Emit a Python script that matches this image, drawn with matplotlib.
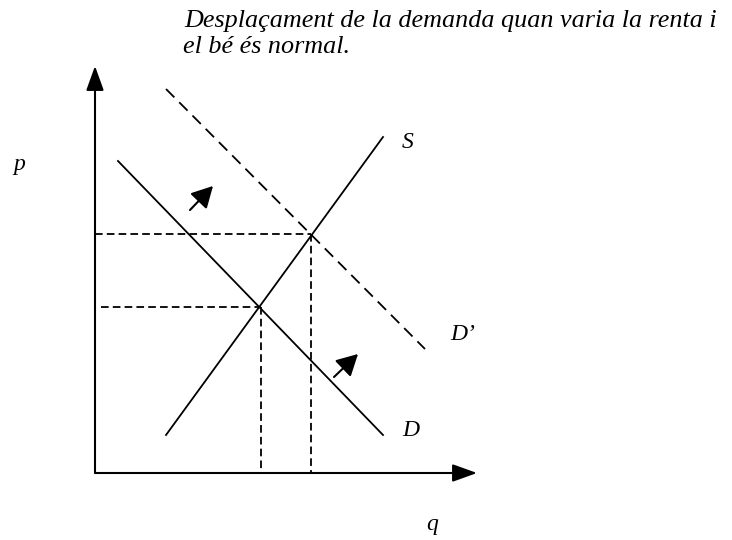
import matplotlib.pyplot as plt

plt.rcParams['lines.scale_dashes'] = False

# demand shift when income rises and the good is normal
# coordinates: q to the right, p up, origin at the axes corner
axis_q = [0, 382]
axis_p = [0, 407]

supply_q = [71, 288]
supply_p = [38, 336]
demand_q = [23, 288]
demand_p = [312, 38]
demand2_q = [71, 330]
demand2_p = [384, 124]

eq_q = [166, 216]
eq_p = [166, 239]
guide_start = [6, 0]

shift_from = [(95, 263), (239, 96)]
shift_to = [(118, 287), (263, 119)]

title_lines = ['Desplaçament de la demanda quan varia la renta i',
               'el bé és normal.']

fig = plt.figure(figsize=(7.32, 5.40), dpi=100)
ax = fig.add_axes([0, 0, 1, 1])
ax.set_xlim(-95, 637)
ax.set_ylim(-67, 473)
ax.axis('off')

# axes with arrow heads
arrow_axis = dict(arrowstyle='-|>,head_length=0.75,head_width=0.27',
                  mutation_scale=20, color='black', lw=1.5,
                  shrinkA=0, shrinkB=0)
ax.annotate('', xy=(0, axis_p[1]), xytext=(0, 0), arrowprops=arrow_axis)
ax.annotate('', xy=(axis_q[1], 0), xytext=(0, 0), arrowprops=arrow_axis)

ax.plot(supply_q, supply_p, color='black', lw=1.3)
ax.plot(demand_q, demand_p, color='black', lw=1.3)
ax.plot(demand2_q, demand2_p, color='black', lw=1.3, dashes=(8.5, 5))

# dashed guides to equilibria
for q0, p0, s in zip(eq_q, eq_p, guide_start):
    ax.plot([s, q0], [p0, p0], color='black', lw=1.3, dashes=(5.5, 3))
    ax.plot([q0, q0], [p0, 0], color='black', lw=1.3, dashes=(5.5, 3))

arrow_shift = dict(arrowstyle='-|>,head_length=0.65,head_width=0.35',
                   mutation_scale=20, color='black', lw=1.5,
                   shrinkA=0, shrinkB=0)
for a, b in zip(shift_from, shift_to):
    ax.annotate('', xy=b, xytext=a, arrowprops=arrow_shift)

font = dict(family='Liberation Serif', style='italic', fontsize=17,
            va='baseline', ha='left')
title_font = dict(font, fontsize=18.8)
ax.text(89, 446, title_lines[0], **title_font)
ax.text(88, 420, title_lines[1], **title_font)
ax.text(-82, 303, 'p', **font)
ax.text(307, 325, 'S', **font)
ax.text(355, 133, 'D’', **font)
ax.text(307, 37, 'D', **font)
ax.text(331, -57, 'q', **font)

fig.savefig('out.png', dpi=100)
